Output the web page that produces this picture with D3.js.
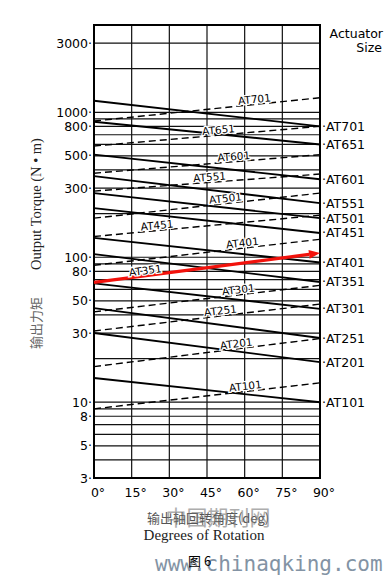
<!DOCTYPE html>
<html>
<head>
<meta charset="utf-8">
<script src="https://cdn.jsdelivr.net/npm/d3@7"></script>
<style>
  body { margin: 0; background: #fff; }
</style>
</head>
<body>
<script>
// actuator sizes, torque at 0 and 90 degrees (N·m)
const sizes = ["AT101", "AT201", "AT251", "AT301", "AT351", "AT401", "AT451", "AT501", "AT551", "AT601", "AT651", "AT701"];
const springAt0 = [14.7, 30, 44.6, 66, 105, 136, 218, 277, 363, 510, 860, 1200];
const springAt90 = [10, 18.9, 27.7, 44, 67.5, 92, 147, 186, 236, 345, 600, 800];
const airAt0 = [9, 17.6, 31, 42, 67, 88, 139, 186, 286, 380, 585, 870];
const airAt90 = [13.6, 27.5, 47.5, 64, 107, 133, 195, 277, 375, 510, 800, 1260];
// where along the dashed line each size name sits (degrees)
const labelDeg = [60.5, 56.9, 50.6, 57.7, 20.7, 59.3, 25.3, 52.6, 46.2, 55.8, 49.8, 64.1];
const highlight = "AT351";

const yTicks = [3, 5, 8, 10, 30, 50, 80, 100, 300, 500, 800, 1000, 3000];
const yGrid = [3, 4, 5, 6, 7, 8, 9, 10, 20, 30, 40, 50, 60, 70, 80, 90,
  100, 200, 300, 400, 500, 600, 700, 800, 900, 1000, 2000, 3000];
const xTicks = [0, 15, 30, 45, 60, 75, 90];

const W = 385, H = 575;
const sans = "'DejaVu Sans', Arial, sans-serif";
const serif = "'Liberation Serif', 'Times New Roman', serif";
const cjk = "'Noto Sans CJK SC', sans-serif";

const svg = d3.select("body").append("svg")
  .attr("width", W)
  .attr("height", H);

const x = d3.scaleLinear().domain([0, 90]).range([94, 320]);
const y = d3.scaleLog().domain([3, 4000]).range([478, 25]);

// grid
svg.append("g")
  .selectAll("line")
  .data(yGrid)
  .enter()
  .append("line")
  .attr("x1", x(0))
  .attr("x2", x(90))
  .attr("y1", (d) => y(d))
  .attr("y2", (d) => y(d))
  .attr("stroke", "#111")
  .attr("stroke-width", 1.2);

svg.append("g")
  .selectAll("line")
  .data(xTicks)
  .enter()
  .append("line")
  .attr("x1", (d) => x(d))
  .attr("x2", (d) => x(d))
  .attr("y1", y(4000))
  .attr("y2", y(3))
  .attr("stroke", "#111")
  .attr("stroke-width", 1.2);

// frame
svg.append("rect")
  .attr("x", x(0))
  .attr("y", y(4000))
  .attr("width", x(90) - x(0))
  .attr("height", y(3) - y(4000))
  .attr("fill", "none")
  .attr("stroke", "#000")
  .attr("stroke-width", 2);

const rows = sizes.map((s, i) => ({
  size: s,
  s0: springAt0[i], s90: springAt90[i],
  a0: airAt0[i], a90: airAt90[i],
  deg: labelDeg[i]
}));

// spring (solid) lines
svg.append("g")
  .selectAll("line")
  .data(rows)
  .enter()
  .append("line")
  .attr("x1", x(0))
  .attr("y1", (d) => y(d.s0))
  .attr("x2", x(90))
  .attr("y2", (d) => y(d.s90))
  .attr("stroke", "#000")
  .attr("stroke-width", 1.9);

// air (dashed) lines
svg.append("g")
  .selectAll("line")
  .data(rows.filter((d) => d.size !== highlight))
  .enter()
  .append("line")
  .attr("x1", x(0))
  .attr("y1", (d) => y(d.a0))
  .attr("x2", x(90))
  .attr("y2", (d) => y(d.a90))
  .attr("stroke", "#000")
  .attr("stroke-width", 1.4)
  .attr("stroke-dasharray", "7,4");

// highlighted size as a red arrow
const hl = rows.find((d) => d.size === highlight);
const x0 = x(0), y0 = y(hl.a0), x1 = x(90), y1 = y(hl.a90);
const ang = Math.atan2(y1 - y0, x1 - x0);
const headLen = 11, headW = 4.5;
const bx = x1 - headLen * Math.cos(ang), by = y1 - headLen * Math.sin(ang);
svg.append("line")
  .attr("x1", x0).attr("y1", y0)
  .attr("x2", bx).attr("y2", by)
  .attr("stroke", "#f2120c")
  .attr("stroke-width", 3.2);
svg.append("path")
  .attr("d", `M${x1},${y1}L${bx + headW * Math.sin(ang)},${by - headW * Math.cos(ang)}L${bx - headW * Math.sin(ang)},${by + headW * Math.cos(ang)}Z`)
  .attr("fill", "#f2120c");

// size names on the dashed lines
svg.append("g")
  .selectAll("text")
  .data(rows)
  .enter()
  .append("text")
  .attr("transform", (d) => {
    const px = x(d.deg);
    const py = y(d.a0) + (y(d.a90) - y(d.a0)) * d.deg / 90;
    const a = Math.atan2(y(d.a90) - y(d.a0), x(90) - x(0)) * 180 / Math.PI;
    return `translate(${px},${py}) rotate(${a})`;
  })
  .attr("dy", -1.5)
  .attr("text-anchor", "middle")
  .attr("font-family", sans)
  .attr("font-size", 10.5)
  .attr("fill", "#000")
  .attr("stroke", "#fff")
  .attr("stroke-width", 2.5)
  .attr("paint-order", "stroke")
  .text((d) => d.size);

// right-hand size labels
svg.append("g")
  .selectAll("text")
  .data(rows)
  .enter()
  .append("text")
  .attr("x", x(90) + 2)
  .attr("y", (d) => y(d.s90) + 4.5)
  .attr("font-family", sans)
  .attr("font-size", 12.5)
  .attr("fill", "#000")
  .text((d) => "·" + d.size);

svg.append("text")
  .attr("x", 383).attr("y", 38)
  .attr("text-anchor", "end")
  .attr("font-family", sans).attr("font-size", 12.5)
  .text("Actuator");
svg.append("text")
  .attr("x", 382).attr("y", 51.5)
  .attr("text-anchor", "end")
  .attr("font-family", sans).attr("font-size", 12.5)
  .text("Size");

// y tick labels
svg.append("g")
  .selectAll("text")
  .data(yTicks)
  .enter()
  .append("text")
  .attr("x", x(0) - 2)
  .attr("y", (d) => y(d) + 4.5)
  .attr("text-anchor", "end")
  .attr("font-family", sans)
  .attr("font-size", 12.5)
  .text((d) => d + "·");

// x tick labels
svg.append("g")
  .selectAll("text")
  .data(xTicks)
  .enter()
  .append("text")
  .attr("x", (d) => x(d) + 4)
  .attr("y", 497)
  .attr("text-anchor", "middle")
  .attr("font-family", sans)
  .attr("font-size", 12.5)
  .text((d) => d + "°");

// axis titles
svg.append("text")
  .attr("transform", "translate(41,204) rotate(-90)")
  .attr("text-anchor", "middle")
  .attr("font-family", serif)
  .attr("font-size", 14.5)
  .attr("fill", "#222")
  .text("Output Torque (N • m)");

svg.append("text")
  .attr("transform", "translate(41,323) rotate(-90)")
  .attr("text-anchor", "middle")
  .attr("font-family", cjk)
  .attr("font-size", 13)
  .attr("fill", "#666")
  .text("输出力矩");

svg.append("text")
  .attr("x", 208).attr("y", 523)
  .attr("text-anchor", "middle")
  .attr("font-family", cjk)
  .attr("font-size", 13)
  .attr("fill", "#555")
  .text("输出轴回转角度(deg)");

svg.append("text")
  .attr("x", 218).attr("y", 525)
  .attr("text-anchor", "middle")
  .attr("font-family", cjk)
  .attr("font-size", 21)
  .attr("fill", "#777")
  .attr("opacity", 0.6)
  .text("中国期刊网");

svg.append("text")
  .attr("x", 204).attr("y", 540)
  .attr("text-anchor", "middle")
  .attr("font-family", serif)
  .attr("font-size", 15)
  .attr("fill", "#222")
  .text("Degrees of Rotation");

// footer
svg.append("text")
  .attr("x", 155).attr("y", 571)
  .attr("font-family", "'DejaVu Sans Mono', monospace")
  .attr("font-size", 21)
  .attr("fill", "#8393a4")
  .text("www.chinaqking.com");

svg.append("text")
  .attr("x", 188).attr("y", 566)
  .attr("font-family", cjk)
  .attr("font-size", 13)
  .attr("fill", "#000")
  .text("图 6");
</script>
</body>
</html>
